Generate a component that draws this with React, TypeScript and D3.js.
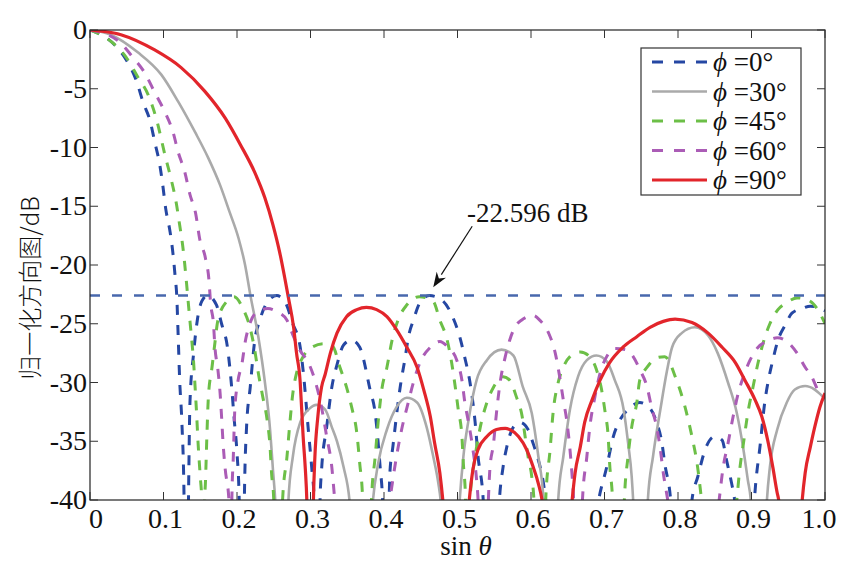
import * as d3 from "d3";

// sin(theta) axis and dB axis
const xTicks = [0, 0.1, 0.2, 0.3, 0.4, 0.5, 0.6, 0.7, 0.8, 0.9, 1.0];
const xTickLabels = ["0", "0.1", "0.2", "0.3", "0.4", "0.5", "0.6", "0.7", "0.8", "0.9", "1.0"];
const yTicks = [0, -5, -10, -15, -20, -25, -30, -35, -40];
const yTickLabels = ["0", "-5", "-10", "-15", "-20", "-25", "-30", "-35", "-40"];
const phiLabels = ["0°", "30°", "45°", "60°", "90°"];
const sidelobeLevel = -22.596;

// [sin θ, dB]; nulls below -40 are clipped
const phi0: [number, number][] = [
  [0, 0], [0.034, -1.3], [0.049, -2.5], [0.063, -4.3], [0.072, -6.1], [0.082, -7.8], [0.088, -9.5], [0.095, -11.5],
  [0.099, -13.2], [0.103, -15.2], [0.109, -17.2], [0.113, -19.1], [0.116, -21.1], [0.118, -22.6], [0.12, -26.1],
  [0.122, -29.8], [0.125, -33.4], [0.128, -40], [0.131, -60],
  [0.134, -40], [0.136, -31.7], [0.141, -27.5], [0.146, -24.7], [0.152, -23.1], [0.16, -22.6], [0.172, -23.4],
  [0.179, -25], [0.187, -27], [0.193, -30.6], [0.196, -33], [0.2, -36], [0.203, -40], [0.207, -60],
  [0.21, -40], [0.213, -33.8], [0.218, -30.4], [0.224, -26.5], [0.231, -24.7], [0.242, -23.1], [0.254, -22.6],
  [0.265, -23.1], [0.276, -25], [0.286, -27], [0.29, -29], [0.297, -34], [0.302, -37.5], [0.305, -40], [0.309, -60],
  [0.313, -40], [0.315, -37.5], [0.322, -33.8], [0.329, -30.4], [0.336, -28.5], [0.345, -26.8], [0.356, -26.4],
  [0.367, -27], [0.381, -30.6], [0.388, -32.6], [0.395, -37.4], [0.398, -40], [0.403, -60],
  [0.407, -40], [0.408, -37.7], [0.412, -35.5], [0.422, -30.4], [0.429, -27.8], [0.433, -26.2], [0.44, -24.7],
  [0.449, -23.2], [0.462, -22.6], [0.479, -23], [0.494, -24.5], [0.503, -26.1], [0.51, -27.9], [0.517, -30],
  [0.524, -33.4], [0.528, -36.3], [0.535, -40], [0.546, -60],
  [0.557, -40], [0.562, -37.2], [0.567, -35.5], [0.576, -33.8], [0.585, -33.4], [0.596, -34], [0.603, -35.2],
  [0.61, -36.6], [0.617, -38.6], [0.62, -40], [0.657, -60],
  [0.692, -40], [0.703, -37.2], [0.712, -34.6], [0.721, -33.2], [0.732, -32.3], [0.748, -31.7], [0.762, -32.2],
  [0.771, -33.4], [0.778, -35.1], [0.782, -36.9], [0.79, -40], [0.805, -60],
  [0.819, -40], [0.827, -38], [0.837, -35.7], [0.85, -34.6], [0.86, -34.9], [0.866, -36.6], [0.873, -38.6],
  [0.877, -40], [0.891, -60],
  [0.904, -40], [0.912, -35.2], [0.918, -31.7], [0.923, -29.8], [0.929, -28.1], [0.936, -26.4], [0.946, -25.1],
  [0.955, -24.1], [0.969, -23.7], [0.98, -23.5], [0.99, -23.6], [1.0, -23.9],
];

const phi30: [number, number][] = [
  [0, 0], [0.028, -0.4], [0.065, -1.9], [0.097, -3.8], [0.12, -6.1], [0.143, -8.7], [0.161, -10.9], [0.177, -13.2],
  [0.19, -15.5], [0.202, -17.7], [0.211, -20], [0.218, -22.5], [0.229, -26.1], [0.238, -30], [0.245, -34],
  [0.249, -37.5], [0.252, -40], [0.261, -60],
  [0.27, -40], [0.276, -36.3], [0.286, -33.4], [0.299, -32.2], [0.308, -31.9], [0.32, -32.3], [0.329, -33.8],
  [0.336, -35], [0.345, -37.2], [0.353, -40], [0.369, -60],
  [0.385, -40], [0.392, -36.9], [0.404, -34], [0.417, -32.1], [0.431, -31.3], [0.445, -31.7], [0.458, -33.8],
  [0.467, -36.3], [0.474, -38.6], [0.477, -40], [0.49, -60],
  [0.503, -40], [0.508, -36.3], [0.515, -33.2], [0.526, -29.8], [0.54, -28.1], [0.56, -27.2], [0.576, -27.7],
  [0.589, -30.4], [0.601, -32.6], [0.61, -36.3], [0.617, -40], [0.627, -60],
  [0.637, -40], [0.644, -36.3], [0.653, -32.3], [0.664, -29.5], [0.676, -28.1], [0.689, -27.7], [0.703, -28.2],
  [0.714, -29.8], [0.726, -32.3], [0.732, -35.1], [0.737, -38], [0.739, -40], [0.749, -60],
  [0.759, -40], [0.766, -36.3], [0.776, -32.3], [0.785, -29], [0.792, -27], [0.805, -25.8], [0.823, -25.3],
  [0.841, -26], [0.854, -27.5], [0.868, -30], [0.88, -32.6], [0.889, -35.7], [0.895, -38.3], [0.899, -40], [0.91, -60],
  [0.921, -40], [0.925, -37.2], [0.935, -34], [0.948, -31.7], [0.959, -30.6], [0.973, -30.3], [0.986, -30.6],
  [0.997, -31.2], [1.0, -31.4],
];

const phi45: [number, number][] = [
  [0, 0], [0.031, -1.1], [0.049, -2.3], [0.065, -4], [0.079, -5.5], [0.09, -7.5], [0.103, -10.9], [0.11, -12.6],
  [0.117, -14.6], [0.122, -16.6], [0.126, -18.3], [0.129, -20], [0.132, -22], [0.135, -24.1],
  [0.138, -26.1], [0.141, -28.3], [0.143, -30.4], [0.145, -32.6], [0.147, -35.1], [0.15, -38], [0.152, -40], [0.154, -60],
  [0.156, -40], [0.157, -38.6], [0.159, -34.6], [0.161, -31.3], [0.166, -28.7], [0.17, -26.6], [0.174, -24.7],
  [0.186, -23.1], [0.196, -22.7], [0.208, -23.7], [0.218, -25.4], [0.224, -27.2], [0.229, -29.2], [0.235, -31.2],
  [0.241, -33.2], [0.245, -35.5], [0.247, -37.7], [0.25, -40], [0.256, -60],
  [0.262, -40], [0.268, -36.3], [0.272, -33.4], [0.276, -30.9], [0.281, -29.2], [0.29, -27.8], [0.302, -27],
  [0.318, -26.7], [0.33, -26.9], [0.34, -28.7], [0.349, -30.4], [0.356, -32.1], [0.363, -34.3], [0.367, -36.9],
  [0.371, -40], [0.377, -60],
  [0.383, -40], [0.388, -36.3], [0.392, -33.4], [0.397, -30.6], [0.404, -28.7], [0.411, -26.4], [0.419, -24.7],
  [0.431, -23.4], [0.448, -22.7], [0.467, -23.1], [0.476, -24.7], [0.486, -26.4], [0.492, -28.3], [0.497, -30.4],
  [0.501, -32.3], [0.506, -34.6], [0.508, -36.9], [0.511, -40], [0.514, -60],
  [0.517, -40], [0.524, -36.3], [0.531, -33.8], [0.54, -31.7], [0.549, -30.4], [0.562, -29.5], [0.571, -29.8],
  [0.58, -31.2], [0.588, -32.9], [0.592, -34.6], [0.596, -36.3], [0.601, -38], [0.604, -40], [0.612, -60],
  [0.62, -40], [0.626, -35.7], [0.63, -32.6], [0.637, -30], [0.644, -28.7], [0.653, -27.8], [0.667, -27.4],
  [0.68, -27.8], [0.689, -28.9], [0.696, -30.6], [0.701, -32.6], [0.705, -34.6], [0.707, -36.9], [0.711, -40], [0.719, -60],
  [0.727, -40], [0.732, -36.3], [0.737, -33.8], [0.744, -31.7], [0.748, -29.8], [0.758, -28.7], [0.771, -27.9],
  [0.782, -27.8], [0.798, -29.8], [0.807, -31.5], [0.814, -33.2], [0.82, -34.9], [0.826, -36.9], [0.832, -40], [0.856, -60],
  [0.88, -40], [0.884, -37.4], [0.889, -35.2], [0.895, -32.6], [0.902, -30.4], [0.909, -28.3], [0.916, -26.6],
  [0.925, -25], [0.936, -23.8], [0.948, -23.2], [0.962, -22.8], [0.973, -22.9], [0.984, -23.3], [0.993, -24.1], [1.0, -25],
];

const phi60: [number, number][] = [
  [0, 0], [0.038, -0.9], [0.058, -2.3], [0.074, -3.6], [0.088, -5.3], [0.102, -7], [0.113, -8.7], [0.12, -10.4],
  [0.129, -12.1], [0.136, -14], [0.144, -15.7], [0.149, -17.7], [0.157, -19.4], [0.162, -21.4], [0.164, -23.2],
  [0.168, -25], [0.17, -27], [0.174, -28.9], [0.177, -30.9], [0.179, -32.9], [0.181, -35.1], [0.184, -37.4],
  [0.189, -40], [0.191, -60],
  [0.193, -40], [0.195, -36.3], [0.197, -32.3], [0.201, -30], [0.207, -28.3], [0.211, -26.6], [0.218, -24.9],
  [0.227, -24], [0.242, -23.7], [0.255, -24], [0.268, -24.7], [0.277, -26.1], [0.286, -27.3], [0.297, -28.3],
  [0.306, -29.8], [0.315, -32.1], [0.322, -34.6], [0.329, -37.2], [0.333, -40], [0.37, -60],
  [0.408, -40], [0.417, -36.3], [0.424, -34], [0.433, -31.7], [0.44, -30], [0.449, -28.3], [0.463, -27],
  [0.476, -26.5], [0.487, -27], [0.499, -28.1], [0.506, -29.8], [0.51, -31.7], [0.515, -33.4], [0.521, -35.7],
  [0.526, -38.3], [0.528, -40], [0.535, -60],
  [0.542, -40], [0.544, -37.4], [0.549, -35.2], [0.553, -32.6], [0.558, -30], [0.565, -27.8], [0.571, -26.4],
  [0.58, -25.1], [0.587, -24.7], [0.603, -24.3], [0.612, -24.7], [0.624, -25.8], [0.633, -27.5], [0.639, -29.5],
  [0.644, -31.5], [0.649, -33.4], [0.653, -35.7], [0.656, -38], [0.658, -40], [0.664, -60],
  [0.67, -40], [0.676, -36.3], [0.68, -33.8], [0.687, -31.2], [0.694, -29.2], [0.703, -27.8], [0.714, -27.1],
  [0.728, -27.2], [0.739, -27.8], [0.748, -28.9], [0.758, -30.4], [0.764, -32.1], [0.771, -33.8], [0.776, -35.7],
  [0.78, -37.7], [0.786, -40], [0.821, -60],
  [0.856, -40], [0.861, -37.4], [0.868, -35.2], [0.875, -32.9], [0.882, -30.9], [0.889, -29.5], [0.898, -28.1],
  [0.909, -27], [0.921, -26.5], [0.935, -26.2], [0.948, -26.5], [0.962, -27.5], [0.973, -28.7], [0.982, -29.5],
  [0.99, -30.6], [1.0, -31.3],
];

const phi90: [number, number][] = [
  [0, 0], [0.042, -0.4], [0.088, -1.7], [0.124, -3.2], [0.156, -5.2], [0.184, -7.5], [0.205, -9.8], [0.224, -12.1],
  [0.238, -14.3], [0.249, -16.6], [0.258, -18.9], [0.265, -21.1], [0.27, -22.8], [0.277, -25.3],
  [0.281, -27.5], [0.286, -30], [0.288, -32.3], [0.29, -34.6], [0.293, -37.4], [0.295, -40], [0.3, -60],
  [0.304, -40], [0.306, -36.3], [0.31, -32.9], [0.315, -30.4], [0.32, -29.3], [0.327, -27.5], [0.336, -25.8],
  [0.349, -24.4], [0.363, -23.8], [0.376, -23.6], [0.39, -23.8], [0.404, -24.4], [0.417, -25.5], [0.431, -27],
  [0.445, -28.7], [0.454, -30.6], [0.463, -32.9], [0.469, -35.2], [0.476, -37.7], [0.48, -40], [0.498, -60],
  [0.516, -40], [0.521, -37.4], [0.528, -35.7], [0.54, -34.6], [0.553, -34], [0.565, -33.9], [0.571, -34],
  [0.583, -34.6], [0.594, -35.7], [0.603, -37.2], [0.61, -38.6], [0.615, -40], [0.636, -60],
  [0.656, -40], [0.66, -37.7], [0.667, -35.5], [0.673, -33.4], [0.683, -31.5], [0.694, -29.8], [0.707, -28.3],
  [0.725, -27], [0.744, -26.1], [0.762, -25.3], [0.78, -24.8], [0.796, -24.6], [0.819, -24.9], [0.841, -25.8],
  [0.86, -27], [0.878, -28.3], [0.891, -29.8], [0.905, -31.5], [0.914, -32.9], [0.922, -34.9], [0.929, -37.2],
  [0.935, -39.4], [0.937, -40], [0.953, -60],
  [0.969, -40], [0.973, -37.7], [0.98, -35.5], [0.986, -33.8], [0.993, -32.1], [1.0, -30.9],
];

const seriesData = [phi0, phi30, phi45, phi60, phi90];
const seriesColors = ["#2547a3", "#aaaaaa", "#6cbf47", "#ab5cb6", "#e2252b"];
const seriesDash = ["10,10", null, "10,10", "10,10", null];
const seriesWidth = [3, 2.6, 3, 3, 3.2];

const W = 865;
const H = 571;
const margin = { left: 90, right: 40, top: 30, bottom: 71 };
const serif = "'Liberation Serif', 'Times New Roman', Times, serif";

export default function App() {
  const x = d3.scaleLinear().domain([0, 1]).range([margin.left, W - margin.right]);
  const y = d3.scaleLinear().domain([-40, 0]).range([H - margin.bottom, margin.top]);
  const line = d3
    .line<[number, number]>()
    .x((d) => x(d[0]))
    .y((d) => y(d[1]))
    .curve(d3.curveMonotoneX);

  const [x0, x1] = x.range();
  const [yb, yt] = y.range();
  const tick = 8;

  // end labels sit a little inside the frame, as in the original
  const labelShift = (i: number) => (i === 0 ? 6 : i === xTicks.length - 1 ? -6 : 2);

  // annotation, in data units
  const arrowTip = [0.467, -21.9];
  const arrowTail = [0.52, -16.7];
  const tx = x(arrowTip[0]);
  const ty = y(arrowTip[1]);
  const sx = x(arrowTail[0]);
  const sy = y(arrowTail[1]);
  const ang = Math.atan2(ty - sy, tx - sx);
  const hl = 15;
  const hw = 5.5;
  const bx = tx - hl * Math.cos(ang);
  const by = ty - hl * Math.sin(ang);
  const head = [
    [tx, ty],
    [bx + hw * Math.sin(ang), by - hw * Math.cos(ang)],
    [tx - hl * 0.7 * Math.cos(ang), ty - hl * 0.7 * Math.sin(ang)],
    [bx - hw * Math.sin(ang), by + hw * Math.cos(ang)],
  ]
    .map((p) => p.join(","))
    .join(" ");

  const legendX = 641;
  const legendY = 48;
  const rowH = 29.5;

  return (
    <svg
      width={W}
      height={H}
      style={{ position: "absolute", left: 0, top: 0, background: "#fff" }}
    >
      <defs>
        <clipPath id="plot">
          <rect x={x0} y={yt} width={x1 - x0} height={yb - yt} />
        </clipPath>
      </defs>

      <g clipPath="url(#plot)" fill="none">
        {seriesData.map((d, i) => (
          <path
            key={i}
            d={line(d) || ""}
            stroke={seriesColors[i]}
            strokeWidth={seriesWidth[i]}
            strokeDasharray={seriesDash[i] || undefined}
          />
        ))}
        <line
          x1={x0}
          x2={x1}
          y1={y(sidelobeLevel)}
          y2={y(sidelobeLevel)}
          stroke="#4868ad"
          strokeWidth={2.4}
          strokeDasharray="10,12"
        />
      </g>

      {/* frame and inward ticks */}
      <rect x={x0} y={yt} width={x1 - x0} height={yb - yt} fill="none" stroke="#222" strokeWidth={1.2} />
      {xTicks.map((t, i) => (
        <g key={"x" + i}>
          <line x1={x(t)} x2={x(t)} y1={yb} y2={yb - tick} stroke="#333" />
          <line x1={x(t)} x2={x(t)} y1={yt} y2={yt + tick} stroke="#333" />
          <text
            x={x(t) + labelShift(i)}
            y={yb + 28}
            fontSize={28}
            textAnchor="middle"
            fill="#111"
            fontFamily={serif}
          >
            {xTickLabels[i]}
          </text>
        </g>
      ))}
      {yTicks.map((t, i) => (
        <g key={"y" + i}>
          <line x1={x0} x2={x0 + tick} y1={y(t)} y2={y(t)} stroke="#333" />
          <line x1={x1} x2={x1 - tick} y1={y(t)} y2={y(t)} stroke="#333" />
          <text x={x0 - 3} y={y(t) + 9} fontSize={28} textAnchor="end" fill="#111" fontFamily={serif}>
            {yTickLabels[i]}
          </text>
        </g>
      ))}

      <text x={466} y={555} fontSize={27} textAnchor="middle" fill="#111" fontFamily={serif}>
        sin <tspan fontStyle="italic">θ</tspan>
      </text>
      <text
        transform={`translate(39,${(yt + yb) / 2 + 23}) rotate(-90)`}
        fontSize={24}
        textAnchor="middle"
        fill="#111"
        fontFamily="'Noto Sans CJK SC', sans-serif"
        fontWeight={300}
      >
        归一化方向图/dB
      </text>

      {/* annotation */}
      <text x={x(0.513)} y={222} fontSize={27} fill="#111" fontFamily={serif}>
        {"-22.596 dB"}
      </text>
      <line x1={sx} y1={sy} x2={bx} y2={by} stroke="#111" strokeWidth={1.2} />
      <polygon points={head} fill="#111" />

      {/* legend */}
      <rect x={legendX} y={legendY} width={160} height={147} fill="#fff" stroke="#333" strokeWidth={1.2} />
      {phiLabels.map((lab, i) => {
        const cy = legendY + 14 + i * rowH;
        return (
          <g key={"l" + i}>
            <line
              x1={legendX + 11}
              x2={legendX + 66}
              y1={cy}
              y2={cy}
              stroke={seriesColors[i]}
              strokeWidth={seriesWidth[i]}
              strokeDasharray={seriesDash[i] ? "11,11" : undefined}
            />
            <text x={legendX + 72} y={cy + 9} fontSize={27} fill="#111" fontFamily={serif}>
              <tspan fontStyle="italic">ϕ</tspan>
              {" =" + lab}
            </text>
          </g>
        );
      })}
    </svg>
  );
}
